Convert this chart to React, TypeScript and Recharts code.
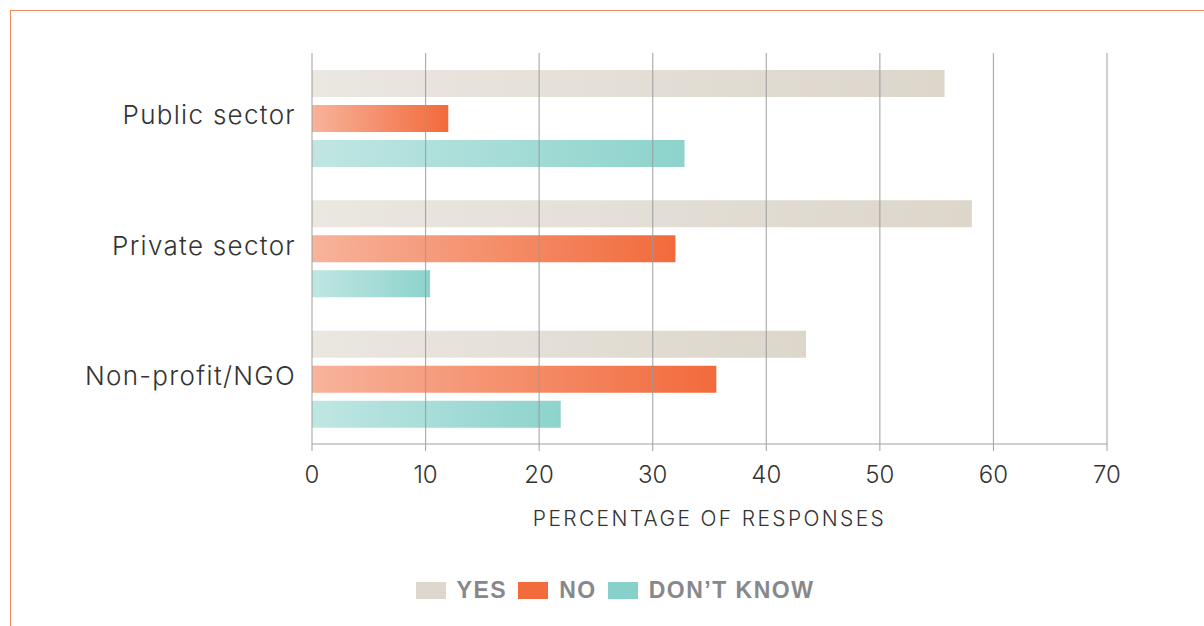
import { Bar, BarChart, ReferenceLine, XAxis, YAxis } from "recharts";

const CATEGORIES = ["Public sector", "Private sector", "Non-profit/NGO"];
const YES = [55.7, 58.1, 43.5];
const NO = [12.0, 32.0, 35.6];
const DONT_KNOW = [32.8, 10.4, 21.9];
const X_TICKS = [0, 10, 20, 30, 40, 50, 60, 70];

const SERIES = [
  { key: "yes", name: "YES", swatch: "#ddd7cd", from: "#ebe7e1", to: "#dcd6cb" },
  { key: "no", name: "NO", swatch: "#f26b3c", from: "#f7b39b", to: "#f26a3b" },
  { key: "dk", name: "DON\u2019T KNOW", swatch: "#88d1ca", from: "#c0e6e3", to: "#8dd3cc" },
];

const FONT = "Inter, sans-serif";

const chartData = CATEGORIES.map((category, i) => ({
  category,
  yes: YES[i],
  no: NO[i],
  dk: DONT_KNOW[i],
}));

function LegendRow() {
  return (
    <div
      style={{
        position: "absolute",
        left: 0,
        top: 576,
        width: 1230,
        display: "flex",
        justifyContent: "center",
        alignItems: "center",
        gap: 11,
        fontFamily: "'Liberation Sans', Arial, sans-serif",
        fontWeight: 700,
        fontSize: 23,
        letterSpacing: 1.5,
        color: "#88888c",
        lineHeight: "28px",
      }}
    >
      {SERIES.map((s) => (
        <div key={s.key} style={{ display: "flex", alignItems: "center", gap: 11 }}>
          <span style={{ display: "inline-block", width: 30, height: 17, background: s.swatch }} />
          <span>{s.name}</span>
        </div>
      ))}
    </div>
  );
}

export default function App() {
  return (
    <div
      style={{
        position: "absolute",
        left: 0,
        top: 0,
        width: 1204,
        height: 626,
        background: "#fff",
        overflow: "hidden",
      }}
    >
      <div
        style={{
          position: "absolute",
          left: 10,
          top: 10,
          right: -2,
          bottom: -2,
          borderTop: "1.5px solid #f0875f",
          borderLeft: "1.5px solid #f0875f",
        }}
      />
      <BarChart
        width={1204}
        height={626}
        data={chartData}
        layout="vertical"
        margin={{ top: 53, right: 97, bottom: 92, left: 0 }}
        barCategoryGap={15}
        barGap={8}
        style={{ position: "absolute", left: 0, top: 0 }}
      >
        <defs>
          {SERIES.map((s) => (
            <linearGradient key={s.key} id={`grad-${s.key}`} x1="0" y1="0" x2="1" y2="0">
              <stop offset="0%" stopColor={s.from} />
              <stop offset="100%" stopColor={s.to} />
            </linearGradient>
          ))}
        </defs>
        <XAxis
          type="number"
          domain={[0, 70]}
          ticks={X_TICKS}
          interval={0}
          height={90}
          stroke="#a0a0a0"
          tickSize={7}
          tickMargin={15}
          tick={{ fontSize: 24, fill: "#333", fontFamily: FONT, fontWeight: 300 }}
          label={{
            value: "PERCENTAGE OF RESPONSES",
            position: "insideBottom",
            offset: 8,
            style: { fontSize: 21, fill: "#333", fontFamily: FONT, letterSpacing: 2.35, fontWeight: 300 },
          }}
        />
        <YAxis
          type="category"
          dataKey="category"
          width={312}
          axisLine={false}
          tickLine={false}
          tickSize={0}
          tickMargin={16}
          tick={{ fontSize: 26, fill: "#333", fontFamily: FONT, letterSpacing: 1.3, fontWeight: 300, dy: -3 }}
        />
        {SERIES.map((s) => (
          <Bar
            key={s.key}
            dataKey={s.key}
            name={s.name}
            barSize={27}
            fill={`url(#grad-${s.key})`}
            isAnimationActive={false}
          />
        ))}
        {X_TICKS.map((t) => (
          <ReferenceLine key={t} x={t} stroke="#9a9a9a" strokeWidth={1.2} strokeOpacity={0.8} />
        ))}
      </BarChart>
      <LegendRow />
    </div>
  );
}
